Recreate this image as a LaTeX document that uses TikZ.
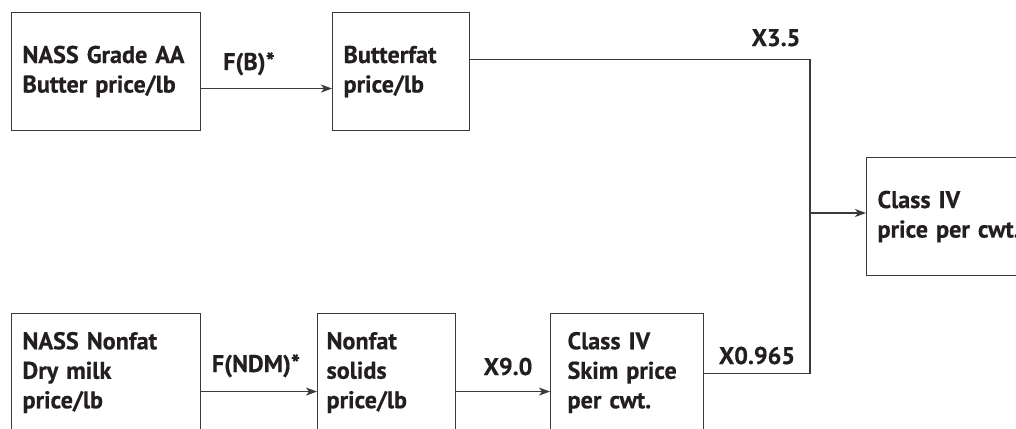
\documentclass[tikz,border=0pt]{standalone}
\usepackage{fontspec}
\setmainfont{PT Sans}[BoldFont={PT Sans Bold}, BoldFeatures={FakeBold=0.5}]
\usetikzlibrary{arrows.meta}
\definecolor{ink}{HTML}{231F20}
\definecolor{rule}{HTML}{3A3A3A}
\begin{document}
\begin{tikzpicture}[x=1pt,y=-1pt,
  box/.style={draw=rule, line width=1.1pt, rectangle, align=left,
    minimum height=118pt, inner ysep=0pt, anchor=north west,
    font=\fontsize{24.2}{29.5}\selectfont\bfseries, text=ink},
  lbl/.style={anchor=base, inner sep=0pt,
    font=\fontsize{24.2}{29.5}\selectfont\bfseries, text=ink},
  link/.style={draw=rule, line width=1.1pt},
  arr/.style={link, -{Stealth[length=11pt,width=8pt,inset=3pt]}}]
\clip (0,0) rectangle (1016,428);
\fill[white] (0,0) rectangle (1016,428);

% boxes
\node[box, inner xsep=11pt, text width=167pt] (nassb) at (11,12) {NASS Grade AA\\Butter price/lb};
\node[box, inner xsep=11pt, text width=115pt] (butter) at (332,12) {Butterfat\\price/lb};
\node[box, inner xsep=11pt, text width=167pt] (nassn) at (11,313) {NASS Nonfat\\Dry milk\\price/lb};
\node[box, inner xsep=9pt, text width=120pt] (solids) at (317,313) {Nonfat\\solids\\price/lb};
\node[box, inner xsep=17pt, text width=119pt] (skim) at (550,313) {Class IV\\Skim price\\per cwt.};
\node[box, inner xsep=11pt, text width=200pt] (classiv) at (866,157) {Class IV\\price per cwt.};

% connectors
\coordinate (j) at (810,213);
\draw[arr] ([yshift=-17pt]nassb.east) -- ([yshift=-17pt]butter.west);
\draw[arr] ([yshift=-19pt]nassn.east) -- ([yshift=-19pt]solids.west);
\draw[arr] ([yshift=-19pt]solids.east) -- ([yshift=-19pt]skim.west);
\draw[link] ([yshift=12pt]butter.east) -| (j);
\draw[link] ([yshift=-1pt]skim.east) -| (j);
\draw[arr] (j) -- (j -| classiv.west);

% factor labels
\node[lbl] (fb) at (249,70) {F(B)*};
\node[lbl] (fndm) at (256,372) {F(NDM)*};
\node[lbl] (x90) at (508,375) {X9.0};
\node[lbl] (x35) at (776,46) {X3.5};
\node[lbl] (x0965) at (757,364) {X0.965};
\end{tikzpicture}
\end{document}
